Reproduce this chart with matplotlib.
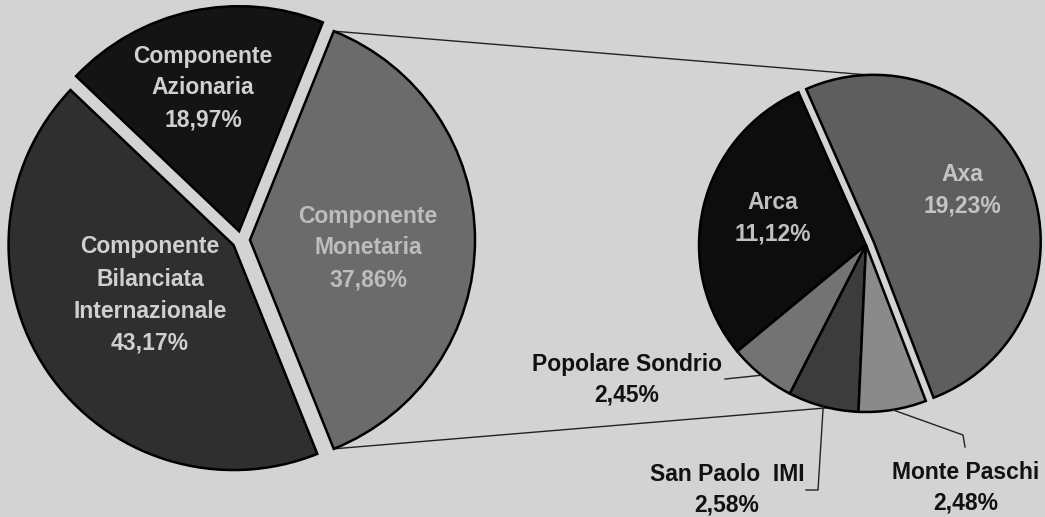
import matplotlib.pyplot as plt
import numpy as np
from matplotlib.transforms import Affine2D

plt.rcParams["font.family"] = ["Liberation Sans", "DejaVu Sans"]

# main pie
main_labels = ["Componente\nMonetaria", "Componente\nAzionaria",
               "Componente\nBilanciata\nInternazionale"]
main_values = [37.86, 18.97, 43.17]
main_pct = ["37,86%", "18,97%", "43,17%"]

# breakdown of "Componente Monetaria"
sub_labels = ["Axa", "Arca", "Popolare Sondrio", "San Paolo  IMI", "Monte Paschi"]
sub_values = [19.23, 11.12, 2.45, 2.58, 2.48]
sub_pct = ["19,23%", "11,12%", "2,45%", "2,58%", "2,48%"]

W, H = 1045, 517


def px(x, y):
    # picture pixel -> data coords (y up)
    return x, H - y


fig = plt.figure(figsize=(10.45, 5.17), dpi=100)
fig.patch.set_facecolor("#d3d3d3")
ax = fig.add_axes([0, 0, 1, 1])

# left pie
lcx, lcy = px(241, 240)
lr = 225
main_explode = 0.04
main_colors = ["#6b6b6b", "#141414", "#2f2f2f"]
wl, _ = ax.pie(main_values, startangle=-68.15, counterclock=True,
               explode=[main_explode] * 3, colors=main_colors,
               wedgeprops=dict(edgecolor="black", linewidth=1.8))
for w in wl:
    w.set_transform(Affine2D().scale(lr, lr).translate(lcx, lcy) + ax.transData)

# right pie
rcx, rcy = px(866, 245)
rr = 167
sub_start = -69
axa_explode = 0.05
sub_colors = ["#5e5e5e", "#0d0d0d", "#737373", "#3c3c3c", "#8a8a8a"]
wr, _ = ax.pie(sub_values, startangle=sub_start, counterclock=True,
               explode=[axa_explode, 0, 0, 0, 0], colors=sub_colors,
               wedgeprops=dict(edgecolor="black", linewidth=1.8))
for w in wr:
    w.set_transform(Affine2D().scale(rr, rr).translate(rcx, rcy) + ax.transData)

ax.set_aspect("auto")
ax.set_xlim(0, W)
ax.set_ylim(0, H)
ax.axis("off")

# slice mid angles of the right pie
cum = np.cumsum([0] + sub_values)
tot = sum(sub_values)
mids = [sub_start + 360 * (cum[i] + sub_values[i] / 2) / tot for i in range(5)]

# connector lines between the two pies
a_top = np.deg2rad(360 * main_values[0] / sum(main_values) / 2)
sh = main_explode * lr
p1 = (lcx + sh + lr * np.cos(a_top), lcy + lr * np.sin(a_top))
p2 = (lcx + sh + lr * np.cos(-a_top), lcy + lr * np.sin(-a_top))
ax_sh = axa_explode * rr
ax_dir = np.deg2rad(mids[0])
q1 = (rcx + ax_sh * np.cos(ax_dir) + rr * np.cos(np.deg2rad(92)),
      rcy + ax_sh * np.sin(ax_dir) + rr * np.sin(np.deg2rad(92)))
q2 = (rcx + rr * np.cos(np.deg2rad(257)), rcy + rr * np.sin(np.deg2rad(257)))
ax.plot([p1[0], q1[0]], [p1[1], q1[1]], color="#222222", lw=1, zorder=0)
ax.plot([p2[0], q2[0]], [p2[1], q2[1]], color="#222222", lw=1, zorder=0)

# labels inside the main pie
lab_font = dict(fontsize=16.5, fontweight="bold", ha="center", va="center")
main_pos = [px(368, 248), px(203, 88), px(150, 295)]
main_tc = ["#bdbdbd", "#d0d0d0", "#d0d0d0"]
for lab, pct, pos, tc in zip(main_labels, main_pct, main_pos, main_tc):
    ax.text(pos[0], pos[1], f"{lab}\n{pct}", color=tc, linespacing=1.5, **lab_font)

# labels inside the big slices of the right pie
ax.text(*px(962, 190), f"{sub_labels[0]}\n{sub_pct[0]}", color="#c4c4c4",
        linespacing=1.45, **lab_font)
ax.text(*px(773, 218), f"{sub_labels[1]}\n{sub_pct[1]}", color="#c0c0c0",
        linespacing=1.45, **lab_font)


# small slices: outside labels with leader lines
def edge(i):
    a = np.deg2rad(mids[i])
    return rcx + rr * np.cos(a), rcy + rr * np.sin(a)


out_pos = [None, None, px(627, 380), px(727, 490), px(966, 488)]
leaders = [None, None,
           [px(725, 379)],
           [px(806, 490), px(818, 490)],
           [px(965, 447), px(963, 435)]]
for i in (2, 3, 4):
    ax.text(out_pos[i][0], out_pos[i][1], f"{sub_labels[i]}\n{sub_pct[i]}",
            color="#111111", linespacing=1.4, **lab_font)
    pts = leaders[i] + [edge(i)]
    ax.plot([p[0] for p in pts], [p[1] for p in pts], color="#222222", lw=1)

fig.savefig("out.png", dpi=100, facecolor=fig.get_facecolor())
